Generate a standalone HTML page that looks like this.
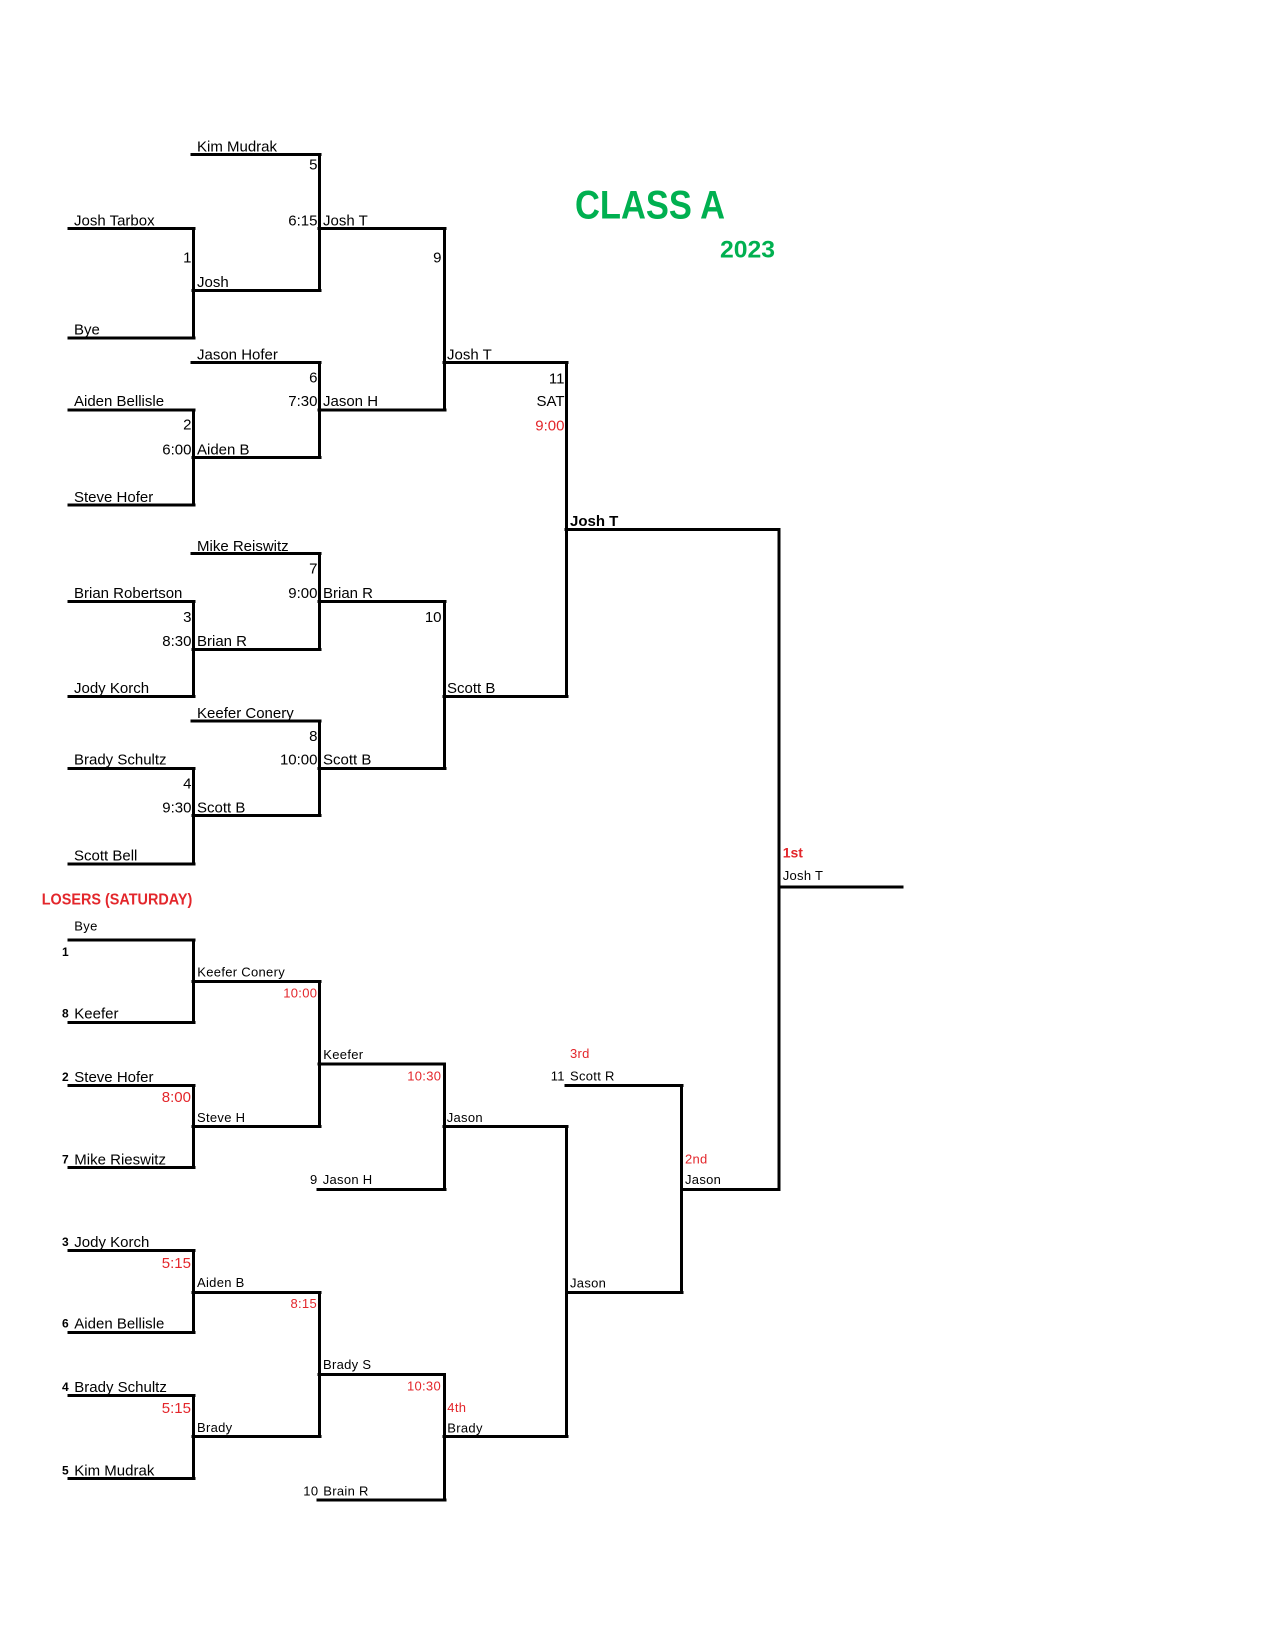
<!DOCTYPE html>
<html><head><meta charset="utf-8"><style>
html,body{margin:0;padding:0;background:#fff;}
svg{display:block;}
text{font-family:"Liberation Sans",Arial,sans-serif;fill:#000;}
.a{font-size:15px;}
.s{font-size:13px;letter-spacing:0.3px;}
.r{fill:#e3262b;}
.b{font-weight:bold;}
.e{text-anchor:end;}
.sd{font-size:12px;font-weight:bold;}
</style></head><body>
<svg width="1275" height="1650" viewBox="0 0 1275 1650" xmlns="http://www.w3.org/2000/svg">
<g stroke="#000" stroke-width="3" stroke-linecap="square" fill="none">
<!-- top bracket horizontals -->
<line x1="192" y1="154.5" x2="320" y2="154.5"/>
<line x1="69" y1="228.5" x2="194" y2="228.5"/>
<line x1="319" y1="228.5" x2="445" y2="228.5"/>
<line x1="193" y1="290.5" x2="320" y2="290.5"/>
<line x1="69" y1="338" x2="194" y2="338"/>
<line x1="192" y1="362.5" x2="320" y2="362.5"/>
<line x1="444" y1="362.5" x2="567" y2="362.5"/>
<line x1="69" y1="410" x2="194" y2="410"/>
<line x1="319" y1="410" x2="445" y2="410"/>
<line x1="193" y1="457.5" x2="320" y2="457.5"/>
<line x1="69" y1="505" x2="194" y2="505"/>
<line x1="566" y1="529.5" x2="779" y2="529.5"/>
<line x1="192" y1="553.5" x2="320" y2="553.5"/>
<line x1="69" y1="601.5" x2="194" y2="601.5"/>
<line x1="319" y1="601.5" x2="445" y2="601.5"/>
<line x1="193" y1="649.5" x2="320" y2="649.5"/>
<line x1="69" y1="696.5" x2="194" y2="696.5"/>
<line x1="444" y1="696.5" x2="567" y2="696.5"/>
<line x1="192" y1="721" x2="320" y2="721"/>
<line x1="69" y1="768.5" x2="194" y2="768.5"/>
<line x1="319" y1="768.5" x2="445" y2="768.5"/>
<line x1="193" y1="815.5" x2="320" y2="815.5"/>
<line x1="69" y1="864" x2="194" y2="864"/>
<line x1="779" y1="887" x2="902" y2="887"/>
<!-- top verticals -->
<line x1="193.5" y1="228.5" x2="193.5" y2="338"/>
<line x1="193.5" y1="410" x2="193.5" y2="505"/>
<line x1="193.5" y1="601.5" x2="193.5" y2="696.5"/>
<line x1="193.5" y1="768.5" x2="193.5" y2="864"/>
<line x1="319.5" y1="154.5" x2="319.5" y2="290.5"/>
<line x1="319.5" y1="362.5" x2="319.5" y2="457.5"/>
<line x1="319.5" y1="553.5" x2="319.5" y2="649.5"/>
<line x1="319.5" y1="721" x2="319.5" y2="815.5"/>
<line x1="444.5" y1="228.5" x2="444.5" y2="410"/>
<line x1="444.5" y1="601.5" x2="444.5" y2="768.5"/>
<line x1="566.5" y1="362.5" x2="566.5" y2="696.5"/>
<line x1="779" y1="529.5" x2="779" y2="1189.5"/>
<!-- losers horizontals -->
<line x1="69" y1="940" x2="194" y2="940"/>
<line x1="193" y1="981.5" x2="320" y2="981.5"/>
<line x1="69" y1="1022.5" x2="194" y2="1022.5"/>
<line x1="319" y1="1064" x2="444" y2="1064"/>
<line x1="69" y1="1085.5" x2="194" y2="1085.5"/>
<line x1="566" y1="1085.5" x2="682" y2="1085.5"/>
<line x1="193" y1="1126.5" x2="320" y2="1126.5"/>
<line x1="444" y1="1126.5" x2="567" y2="1126.5"/>
<line x1="69" y1="1167.5" x2="194" y2="1167.5"/>
<line x1="318" y1="1189.5" x2="445" y2="1189.5"/>
<line x1="682" y1="1189.5" x2="779" y2="1189.5"/>
<line x1="69" y1="1250.5" x2="194" y2="1250.5"/>
<line x1="193" y1="1292.5" x2="320" y2="1292.5"/>
<line x1="567" y1="1292.5" x2="682" y2="1292.5"/>
<line x1="69" y1="1332.5" x2="194" y2="1332.5"/>
<line x1="319" y1="1374.5" x2="444" y2="1374.5"/>
<line x1="69" y1="1395.5" x2="194" y2="1395.5"/>
<line x1="193" y1="1436.5" x2="320" y2="1436.5"/>
<line x1="444" y1="1436.5" x2="567" y2="1436.5"/>
<line x1="69" y1="1478.5" x2="194" y2="1478.5"/>
<line x1="318" y1="1500" x2="445" y2="1500"/>
<!-- losers verticals -->
<line x1="193.5" y1="940" x2="193.5" y2="1022.5"/>
<line x1="193.5" y1="1085.5" x2="193.5" y2="1167.5"/>
<line x1="193.5" y1="1250.5" x2="193.5" y2="1332.5"/>
<line x1="193.5" y1="1395.5" x2="193.5" y2="1478.5"/>
<line x1="319.5" y1="981.5" x2="319.5" y2="1126.5"/>
<line x1="319.5" y1="1292.5" x2="319.5" y2="1436.5"/>
<line x1="444.5" y1="1064" x2="444.5" y2="1189.5"/>
<line x1="444.5" y1="1374.5" x2="444.5" y2="1500"/>
<line x1="566.5" y1="1126.5" x2="566.5" y2="1436.5"/>
<line x1="681.5" y1="1085.5" x2="681.5" y2="1292.5"/>
</g>

<!-- Title -->
<text x="575" y="218.3" font-size="40" font-weight="bold" style="fill:#00b050" textLength="150" lengthAdjust="spacingAndGlyphs">CLASS A</text>
<text x="720" y="257.3" font-size="24" font-weight="bold" style="fill:#00b050" textLength="55" lengthAdjust="spacingAndGlyphs">2023</text>

<!-- Top bracket text -->
<text class="a" x="197" y="151.4">Kim Mudrak</text>
<text class="a e" x="317.5" y="169.7">5</text>
<text class="a" x="74" y="225.4">Josh Tarbox</text>
<text class="a e" x="317.5" y="225.4">6:15</text>
<text class="a" x="323" y="225.4">Josh T</text>
<text class="a e" x="191.5" y="262.4">1</text>
<text class="a e" x="441.5" y="262.4">9</text>
<text class="a" x="197" y="287.1">Josh</text>
<text class="a" x="74" y="334.4">Bye</text>
<text class="a" x="197" y="359.4">Jason Hofer</text>
<text class="a" x="447" y="359.4">Josh T</text>
<text class="a e" x="317.5" y="382.7">6</text>
<text class="a e" x="564.5" y="383.7">11</text>
<text class="a" x="74" y="406.1">Aiden Bellisle</text>
<text class="a e" x="317.5" y="406.1">7:30</text>
<text class="a" x="323" y="406.1">Jason H</text>
<text class="a e" x="564.5" y="406.1">SAT</text>
<text class="a e" x="191.5" y="429.7">2</text>
<text class="a e r" x="564.5" y="430.4">9:00</text>
<text class="a e" x="191.5" y="454.4">6:00</text>
<text class="a" x="197" y="454.4">Aiden B</text>
<text class="a" x="74" y="502.1">Steve Hofer</text>
<text class="a b" x="570" y="526.1">Josh T</text>
<text class="a" x="197" y="551.1">Mike Reiswitz</text>
<text class="a e" x="317.5" y="573.7">7</text>
<text class="a" x="74" y="598.1">Brian Robertson</text>
<text class="a e" x="317.5" y="598.1">9:00</text>
<text class="a" x="323" y="598.1">Brian R</text>
<text class="a e" x="191.5" y="622.1">3</text>
<text class="a e" x="441.5" y="622.1">10</text>
<text class="a e" x="191.5" y="646.1">8:30</text>
<text class="a" x="197" y="646.1">Brian R</text>
<text class="a" x="74" y="693.1">Jody Korch</text>
<text class="a" x="447" y="693.1">Scott B</text>
<text class="a" x="197" y="718.1">Keefer Conery</text>
<text class="a e" x="317.5" y="741.1">8</text>
<text class="a" x="74" y="764.7">Brady Schultz</text>
<text class="a e" x="317.5" y="764.7">10:00</text>
<text class="a" x="323" y="764.7">Scott B</text>
<text class="a e" x="191.5" y="788.7">4</text>
<text class="a e" x="191.5" y="812.7">9:30</text>
<text class="a" x="197" y="812.7">Scott B</text>
<text class="a" x="74" y="860.4">Scott Bell</text>

<!-- Final -->
<text class="b r" font-size="14" x="782.7" y="857.7">1st</text>
<text class="s" x="782.7" y="880.2">Josh T</text>

<!-- Losers -->
<text x="41.7" y="904.3" font-size="16" font-weight="bold" style="fill:#e3262b" textLength="150.6" lengthAdjust="spacingAndGlyphs">LOSERS (SATURDAY)</text>

<text class="s" x="74.3" y="930.7">Bye</text>
<text class="sd" x="62" y="956">1</text>
<text class="s" x="197.3" y="976.4">Keefer Conery</text>
<text class="s r e" x="317.3" y="997.4">10:00</text>
<text class="sd" x="62" y="1017.6">8</text>
<text class="a" x="74.3" y="1018.7">Keefer</text>
<text class="s" x="323.3" y="1059">Keefer</text>
<text class="s r" x="570" y="1058">3rd</text>
<text class="s r e" x="441.3" y="1080.4">10:30</text>
<text class="s" x="550.7" y="1080.4">11</text>
<text class="s" x="570" y="1080.4">Scott R</text>
<text class="sd" x="62" y="1081">2</text>
<text class="a" x="74.3" y="1082.1">Steve Hofer</text>
<text class="a r e" x="191" y="1102.1">8:00</text>
<text class="s" x="197" y="1122">Steve H</text>
<text class="s" x="446.7" y="1122">Jason</text>
<text class="s r" x="685" y="1163.7">2nd</text>
<text class="sd" x="62" y="1163.3">7</text>
<text class="a" x="74.3" y="1164.4">Mike Rieswitz</text>
<text class="s" x="310" y="1184">9</text>
<text class="s" x="322.7" y="1184">Jason H</text>
<text class="s" x="685" y="1184">Jason</text>
<text class="sd" x="62" y="1246">3</text>
<text class="a" x="74.3" y="1247.1">Jody Korch</text>
<text class="a r e" x="191" y="1268.1">5:15</text>
<text class="s" x="197" y="1287">Aiden B</text>
<text class="s" x="570" y="1287.4">Jason</text>
<text class="s r e" x="317" y="1308">8:15</text>
<text class="sd" x="62" y="1327.6">6</text>
<text class="a" x="74.3" y="1328.7">Aiden Bellisle</text>
<text class="s" x="323" y="1369">Brady S</text>
<text class="s r e" x="441" y="1390.4">10:30</text>
<text class="sd" x="62" y="1391">4</text>
<text class="a" x="74.3" y="1392.1">Brady Schultz</text>
<text class="a r e" x="191" y="1413.1">5:15</text>
<text class="s r" x="447.3" y="1412">4th</text>
<text class="s" x="197" y="1432">Brady</text>
<text class="s" x="447.3" y="1432.4">Brady</text>
<text class="sd" x="62" y="1474.3">5</text>
<text class="a" x="74.3" y="1475.4">Kim Mudrak</text>
<text class="s" x="303.3" y="1495.4">10</text>
<text class="s" x="323.3" y="1495.4">Brain R</text>
</svg>
</body></html>
